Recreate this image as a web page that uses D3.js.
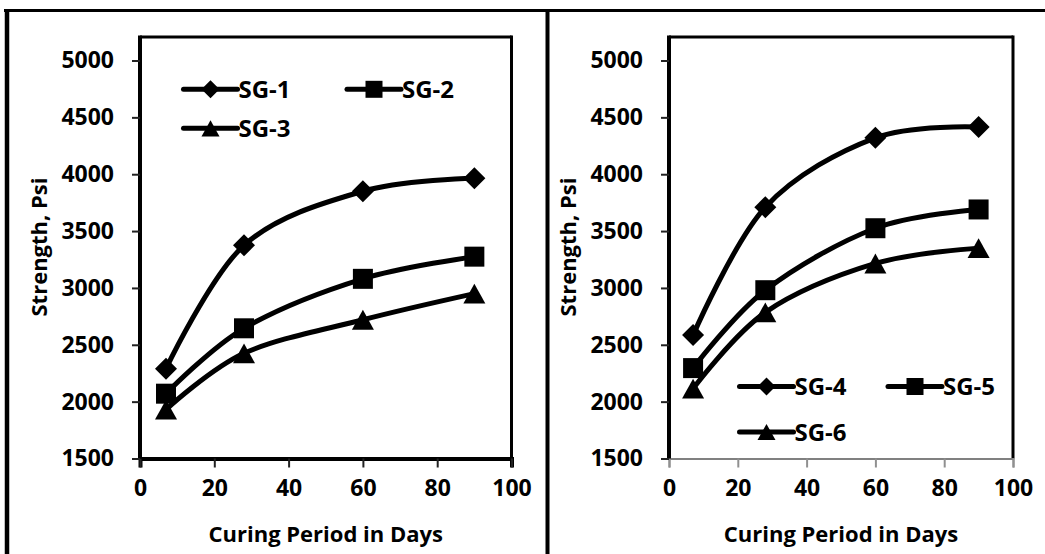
<!DOCTYPE html>
<html>
<head>
<meta charset="utf-8">
<script src="https://cdn.jsdelivr.net/npm/d3@7"></script>
<style>
  body { margin: 0; background: #fff; }
  text { font-family: "Open Sans", Lato, sans-serif; font-weight: bold; fill: #000; }
</style>
</head>
<body>
<div id="chart"></div>
<script>
// Data
const days = [7, 28, 60, 90];
const sg1 = [2290, 3375, 3850, 3965];
const sg2 = [2070, 2645, 3080, 3275];
const sg3 = [1930, 2425, 2720, 2950];
const sg4 = [2585, 3710, 4320, 4415];
const sg5 = [2295, 2980, 3525, 3690];
const sg6 = [2115, 2785, 3215, 3350];
const xTicks = [0, 20, 40, 60, 80, 100];
const yTicks = [1500, 2000, 2500, 3000, 3500, 4000, 4500, 5000];
const xTitle = "Curing Period in Days";
const yTitle = "Strength, Psi";

const width = 1045;
const height = 554;

const svg = d3.select("#chart")
    .append("svg")
    .attr("width", width)
    .attr("height", height);

// custom marker shapes, size = marker width in px
const diamond = {
    draw(ctx, w) {
        const r = w / 2;
        ctx.moveTo(0, -r); ctx.lineTo(r, 0); ctx.lineTo(0, r); ctx.lineTo(-r, 0); ctx.closePath();
    }
};
const square = {
    draw(ctx, w) {
        const r = w / 2;
        ctx.moveTo(-r, -r); ctx.lineTo(r, -r); ctx.lineTo(r, r); ctx.lineTo(-r, r); ctx.closePath();
    }
};
const triangle = {
    draw(ctx, w) {
        const h = w * 0.9;
        ctx.moveTo(0, -h / 2); ctx.lineTo(w / 2, h / 2); ctx.lineTo(-w / 2, h / 2); ctx.closePath();
    }
};
const shapes = [diamond, square, triangle];
const markerSize = [22, 20, 22];
const legendSize = [18, 17, 18];

// outer frame
svg.append("line").attr("x1", 4).attr("x2", width).attr("y1", 10.5).attr("y2", 10.5)
    .attr("stroke", "#000").attr("stroke-width", 3);
svg.append("line").attr("x1", 7).attr("x2", 7).attr("y1", 9).attr("y2", height)
    .attr("stroke", "#000").attr("stroke-width", 4.5);
svg.append("line").attr("x1", 547.5).attr("x2", 547.5).attr("y1", 9).attr("y2", height)
    .attr("stroke", "#000").attr("stroke-width", 4);

function drawPanel(p) {
    const x = d3.scaleLinear().domain([0, 100]).range([p.left, p.right]);
    const y = d3.scaleLinear().domain([1500, 5000]).range([458.5, 60.5]);
    const g = svg.append("g");
    const top = 37, bottom = y(1500);

    // plot frame
    g.append("line").attr("x1", p.left).attr("x2", p.right).attr("y1", top).attr("y2", top)
        .attr("stroke", "#000").attr("stroke-width", 3);
    g.append("line").attr("x1", p.right).attr("x2", p.right).attr("y1", top - 1.5).attr("y2", bottom)
        .attr("stroke", "#000").attr("stroke-width", 3);

    // x axis
    const xAxis = g.append("g")
        .attr("transform", `translate(0,${bottom})`)
        .call(d3.axisBottom(x).tickValues(xTicks).tickFormat(d3.format("d")).tickSize(9).tickPadding(12));
    xAxis.select(".domain").attr("stroke", p.bottomColor).attr("stroke-width", p.bottomWidth);
    xAxis.selectAll(".tick line").attr("stroke", p.tickColor).attr("stroke-width", 2);
    xAxis.selectAll(".tick text").style("font-size", "23px").attr("fill", "#000");

    // y axis
    const yAxis = g.append("g")
        .attr("transform", `translate(${p.left},0)`)
        .call(d3.axisLeft(y).tickValues(yTicks).tickFormat(d3.format("d")).tickSize(8).tickPadding(18));
    yAxis.select(".domain").attr("stroke", "#000").attr("stroke-width", 4)
        .attr("d", `M0,${top - 1.5}V${bottom}`);
    yAxis.selectAll(".tick line").attr("stroke", "#222").attr("stroke-width", 2);
    yAxis.selectAll(".tick text").style("font-size", "23px").attr("fill", "#000");
    yAxis.selectAll("text").attr("font-family", null);
    xAxis.selectAll("text").attr("font-family", null);

    // axis titles
    g.append("text")
        .attr("x", (p.left + p.right) / 2)
        .attr("y", 541.5)
        .attr("text-anchor", "middle")
        .style("font-size", "22px")
        .text(xTitle);
    g.append("text")
        .attr("transform", `translate(${p.left - 93},247) rotate(-90)`)
        .attr("text-anchor", "middle")
        .style("font-size", "22px")
        .text(yTitle);

    // lines
    const line = d3.line()
        .x((d, i) => x(days[i]))
        .y(d => y(d))
        .curve(d3.curveCardinal.tension(0));

    p.series.forEach((s, k) => {
        g.append("path")
            .attr("d", line(s.values))
            .attr("fill", "none")
            .attr("stroke", "#000")
            .attr("stroke-width", 5);
        g.selectAll(".m" + k)
            .data(s.values)
            .enter()
            .append("path")
            .attr("transform", (d, i) => `translate(${x(days[i])},${y(d)})`)
            .attr("d", d3.symbol().type(shapes[k]).size(markerSize[k]))
            .attr("fill", "#000");
    });

    // legend
    const legend = g.append("g").attr("class", "legend");
    p.series.forEach((s, k) => {
        const pos = p.legendPos[k];
        const item = legend.append("g").attr("transform", `translate(${pos[0]},${pos[1]})`);
        item.append("line").attr("x1", 0).attr("x2", 54).attr("y1", 0).attr("y2", 0)
            .attr("stroke", "#000").attr("stroke-width", 5).attr("stroke-linecap", "round");
        item.append("path").attr("transform", "translate(27,0)")
            .attr("d", d3.symbol().type(shapes[k]).size(legendSize[k]))
            .attr("fill", "#000");
        item.append("text").attr("x", 55).attr("y", 8.5)
            .style("font-size", "24px")
            .text(s.name);
    });
}

drawPanel({
    left: 140, right: 511.5,
    bottomColor: "#000", bottomWidth: 4, tickColor: "#222",
    series: [
        { name: "SG-1", values: sg1 },
        { name: "SG-2", values: sg2 },
        { name: "SG-3", values: sg3 }
    ],
    legendPos: [[183.5, 89.3], [347, 89.3], [183.5, 128.3]]
});

drawPanel({
    left: 669, right: 1013,
    bottomColor: "#808080", bottomWidth: 2, tickColor: "#909090",
    series: [
        { name: "SG-4", values: sg4 },
        { name: "SG-5", values: sg5 },
        { name: "SG-6", values: sg6 }
    ],
    legendPos: [[739.5, 386.5], [888, 386.5], [739.5, 432]]
});
</script>
</body>
</html>
